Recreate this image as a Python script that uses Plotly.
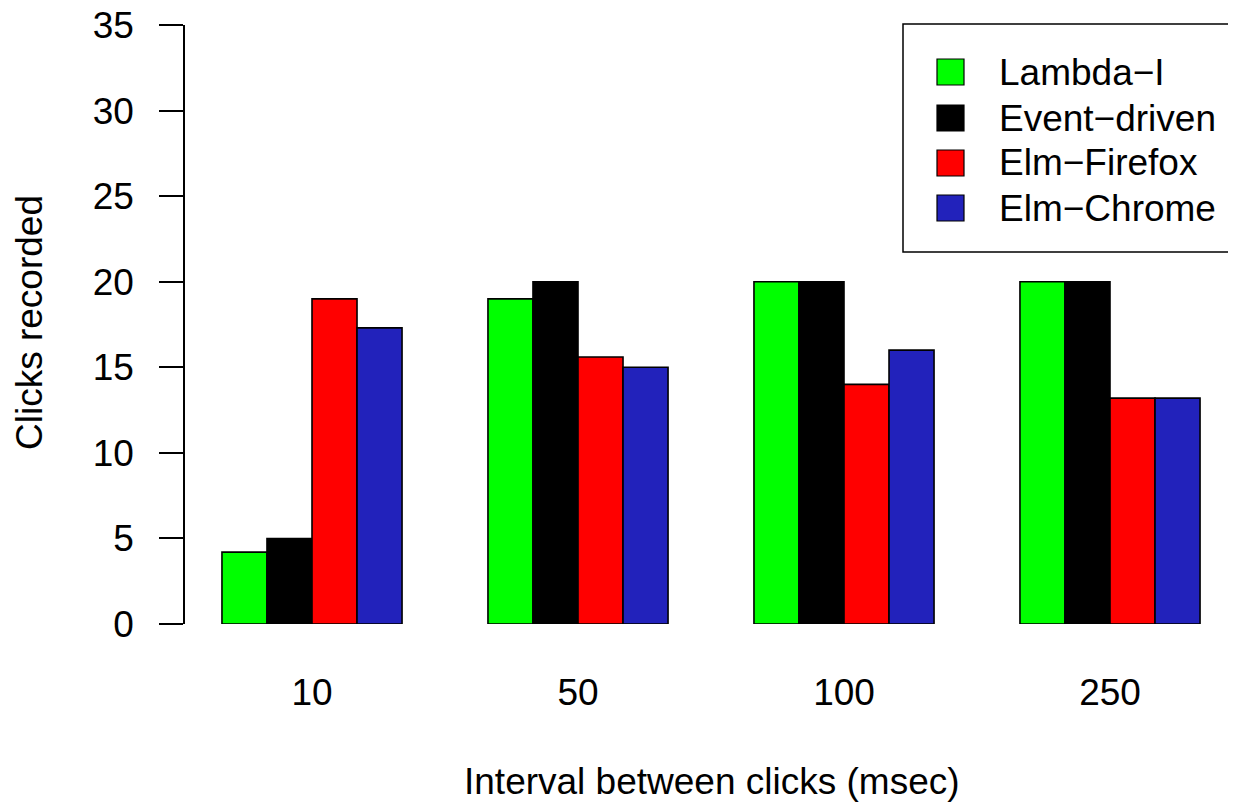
import plotly.graph_objects as go

intervals = ["10", "50", "100", "250"]
series_names = ["Lambda\u2212I", "Event\u2212driven", "Elm\u2212Firefox", "Elm\u2212Chrome"]
lambda_i = [4.2, 19.0, 20.0, 20.0]
event_driven = [5.0, 20.0, 20.0, 20.0]
elm_firefox = [19.0, 15.6, 14.0, 13.2]
elm_chrome = [17.3, 15.0, 16.0, 13.2]
y_ticks = [0, 5, 10, 15, 20, 25, 30, 35]

colors = ["#00FF00", "#000000", "#FF0000", "#2222BB"]
values = [lambda_i, event_driven, elm_firefox, elm_chrome]

OFF = 8  # page body margin
W, H = 1236 - OFF, 802 - OFF
# plot area in screen pixels
SL, SR, ST, SB = 185, 1230, 25, 624
L, R, T, B = SL - OFF, SR - OFF, ST - OFF, SB - OFF
FONT = "Liberation Sans, Arial, sans-serif"
FS = 37

fig = go.Figure()
for name, vals, col in zip(series_names, values, colors):
    fig.add_trace(go.Bar(
        x=intervals, y=vals, name=name, showlegend=False,
        marker=dict(color=col, line=dict(color="black", width=1.6)),
    ))

def px(x):
    return (x - SL) / (SR - SL)

def py(y):
    return (SB - y) / (SB - ST)

shapes = []
annotations = []
shapes.append(dict(type="rect", xref="paper", yref="paper",
                   x0=px(903), x1=px(1235), y0=py(252), y1=py(24),
                   line=dict(color="black", width=1.5), fillcolor="white", layer="above"))
row_y = [72, 118, 163, 208]
for name, col, yy in zip(series_names, colors, row_y):
    shapes.append(dict(type="rect", xref="paper", yref="paper",
                       x0=px(937), x1=px(964), y0=py(yy + 13), y1=py(yy - 13),
                       line=dict(color="black", width=1.2), fillcolor=col, layer="above"))
    annotations.append(dict(xref="paper", yref="paper", x=px(997), y=py(yy),
                            text=name, showarrow=False, xanchor="left", yanchor="middle",
                            font=dict(size=FS, color="black", family=FONT)))

annotations.append(dict(xref="paper", yref="paper", x=px(712), y=py(781),
                        text="Interval between clicks (msec)", showarrow=False,
                        xanchor="center", yanchor="middle",
                        font=dict(size=FS, color="black", family=FONT)))
annotations.append(dict(xref="paper", yref="paper", x=px(29), y=py(323),
                        text="Clicks recorded", showarrow=False, textangle=-90,
                        xanchor="center", yanchor="middle",
                        font=dict(size=FS, color="black", family=FONT)))

cat_c0 = 312  # screen x of first category centre
cat_step = 266

fig.update_layout(
    width=W, height=H,
    margin=dict(l=L, r=W - R, t=T, b=H - B, autoexpand=False),
    paper_bgcolor="white", plot_bgcolor="white",
    barmode="group", bargap=0.323, bargroupgap=0,
    font=dict(family=FONT, size=FS, color="black"),
    shapes=shapes, annotations=annotations,
    xaxis=dict(type="category", range=[(SL - cat_c0) / cat_step, (SR - cat_c0) / cat_step],
               showline=False, showgrid=False, zeroline=False,
               ticks="", ticklabelstandoff=43,
               tickfont=dict(size=FS, color="black", family=FONT)),
    yaxis=dict(range=[0, 35], tickvals=y_ticks, showline=True, linecolor="black",
               linewidth=1.5, ticks="outside", ticklen=24, tickwidth=1.5,
               tickcolor="black", ticklabelstandoff=18, showgrid=False, zeroline=False,
               ticklabeloverflow="allow",
               tickfont=dict(size=FS, color="black", family=FONT)),
)

fig.write_html("out.html")
